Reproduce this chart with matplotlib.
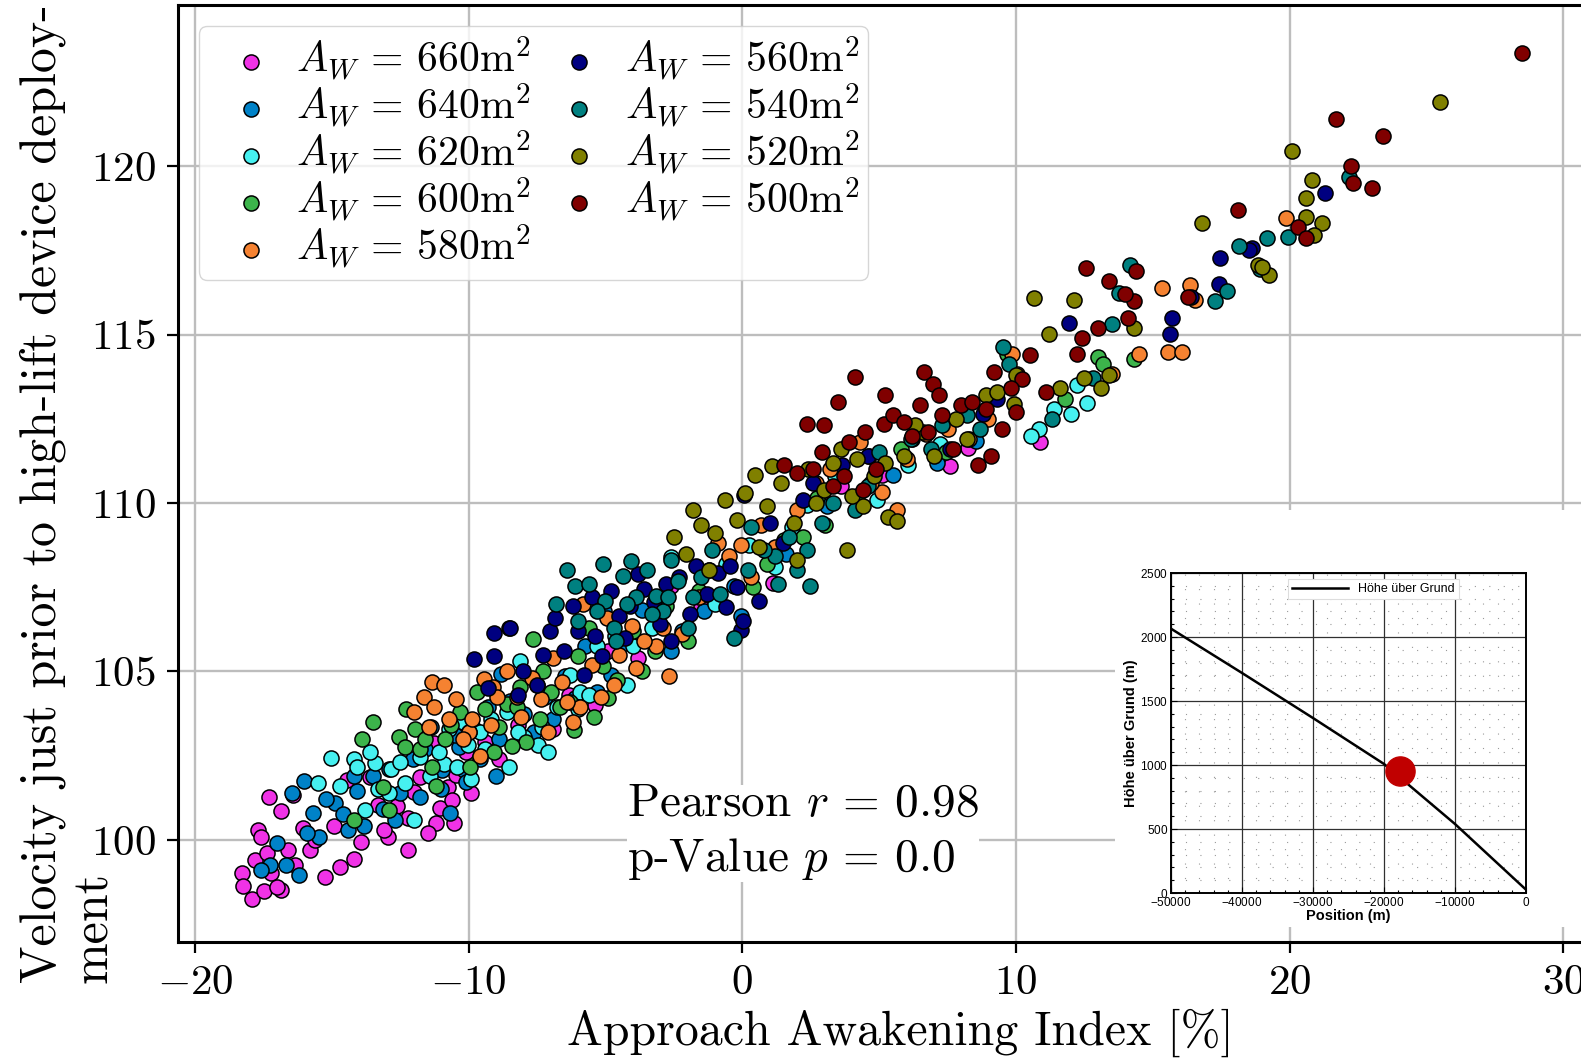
import numpy as np
import matplotlib
matplotlib.use("Agg")
import matplotlib.pyplot as plt
from matplotlib.patches import Rectangle

plt.rcParams["font.family"] = "cmr10"
plt.rcParams["mathtext.fontset"] = "cm"
plt.rcParams["axes.formatter.use_mathtext"] = True

# ---------------------------
# Data
# ---------------------------
areas = [660, 640, 620, 600, 580, 560, 540, 520, 500]
colors = ["#f032e6", "#0082c8", "#46f0f0", "#3cb44b", "#f58231",
          "#000080", "#008080", "#808000", "#800000"]

pts_660 = [(-18.28, 99.01), (-18.24, 98.62), (-17.91, 98.26), (-17.80, 99.40), (-17.69, 100.30),
           (-17.47, 98.47), (-17.35, 99.61), (-17.21, 99.01), (-16.84, 100.87), (-16.84, 98.50),
           (-16.43, 101.32), (-16.36, 99.25), (-15.25, 98.89), (-14.92, 100.42), (-14.19, 99.43),
           (-13.93, 99.94), (-12.93, 100.09), (-12.20, 99.70), (-12.23, 100.66), (-12.01, 101.41),
           (-11.79, 101.86), (-11.20, 100.51), (-11.05, 100.96), (-10.76, 101.56), (-10.54, 100.51),
           (-10.46, 101.92), (-10.10, 102.60), (-10.61, 101.17), (-13.60, 101.86), (-13.30, 101.05),
           (-14.44, 101.77), (-16.06, 100.36), (-17.28, 101.26), (-11.27, 102.87), (-17.60, 100.10),
           (-15.80, 99.70), (-13.10, 100.30), (-6.34, 104.31), (-4.90, 105.60), (-2.62, 107.54),
           (1.14, 107.63), (5.12, 110.84), (8.25, 111.62), (10.87, 111.80), (-9.40, 102.90),
           (-8.20, 103.40), (-7.50, 104.60), (-3.80, 105.40), (-1.50, 106.90), (3.60, 110.50),
           (7.60, 111.10), (-17.00, 98.60), (-16.60, 99.70), (-15.60, 100.00), (-14.70, 99.20),
           (-12.60, 101.00), (-11.50, 100.20), (-9.90, 101.40), (-8.90, 102.40), (-6.90, 103.30),
           (-5.40, 104.00)]

pts_640 = [(-16.47, 101.38), (-16.03, 101.74), (-17.24, 99.25), (-16.69, 99.25), (-16.21, 98.95),
           (-15.48, 100.09), (-14.89, 101.11), (-14.59, 100.78), (-14.08, 101.44), (-13.82, 100.42),
           (-13.12, 100.93), (-12.49, 101.38), (-12.05, 102.40), (-11.79, 101.26), (-11.39, 103.35),
           (-10.98, 102.07), (-10.69, 100.81), (-10.35, 102.75), (-10.17, 102.07), (-10.10, 101.71),
           (-9.80, 103.29), (-9.29, 103.95), (-8.81, 104.91), (-8.47, 104.13), (-7.96, 103.74),
           (-7.22, 104.25), (-6.48, 104.85), (-5.75, 105.75), (-5.05, 106.80), (-3.65, 106.83),
           (-3.17, 106.59), (-0.29, 107.54), (-0.04, 106.65), (4.64, 111.38), (5.49, 110.84),
           (8.55, 111.83), (-15.90, 100.20), (-14.40, 100.30), (-13.50, 101.90), (-12.70, 100.60),
           (-11.60, 102.70), (-9.60, 102.40), (-8.90, 103.00), (-6.90, 103.60), (-5.30, 104.40),
           (-4.40, 105.80), (-2.20, 106.20), (1.60, 108.50), (3.10, 109.90), (7.10, 111.20),
           (-17.00, 99.90), (-15.20, 101.20), (-17.60, 99.10), (-15.70, 100.80), (-14.20, 101.90),
           (-12.90, 102.10), (-11.00, 101.50), (-10.50, 103.10), (-9.00, 101.90), (-7.60, 103.20),
           (-6.10, 104.20), (-4.80, 104.90), (-2.60, 105.60), (-1.40, 106.80)]

pts_620 = [(-15.03, 102.43), (-14.19, 102.40), (-14.08, 102.16), (-13.41, 102.28), (-13.30, 101.50),
           (-12.82, 102.10), (-12.34, 101.68), (-11.79, 102.46), (-10.91, 102.25), (-10.43, 102.16),
           (-10.02, 102.81), (-9.58, 103.20), (-8.51, 102.16), (-8.14, 105.30), (-7.96, 103.05),
           (-7.48, 102.81), (-7.33, 103.35), (-6.78, 103.95), (-5.93, 104.40), (-5.31, 105.75),
           (-4.64, 106.05), (-3.98, 105.75), (-2.62, 108.41), (0.26, 108.74), (2.36, 109.94),
           (4.94, 110.09), (6.04, 111.14), (10.83, 112.19), (11.39, 112.78), (12.23, 113.50),
           (12.60, 112.96), (12.01, 112.63), (10.54, 111.98), (7.22, 111.74), (-14.70, 101.60),
           (-13.80, 100.90), (-12.90, 101.40), (-11.40, 101.90), (-10.70, 103.30), (-9.20, 103.60),
           (-8.60, 103.80), (-6.30, 104.90), (-4.20, 104.60), (-1.00, 107.00), (1.20, 108.10),
           (3.40, 110.80), (-12.00, 100.60), (-9.90, 101.80), (-15.50, 101.70), (-13.60, 102.60),
           (-12.50, 102.30), (-11.10, 102.60), (-10.20, 103.50), (-9.40, 102.70), (-8.20, 103.20),
           (-7.10, 102.60), (-6.00, 103.90), (-5.60, 104.30), (-3.30, 106.30), (-0.60, 108.20),
           (1.80, 109.30)]

pts_600 = [(-13.49, 103.50), (-12.56, 103.05), (-12.31, 102.75), (-13.12, 101.56), (-11.97, 103.29),
           (-11.79, 102.69), (-11.35, 102.16), (-10.87, 102.99), (-10.65, 103.41), (-9.95, 102.16),
           (-9.06, 102.60), (-8.88, 103.35), (-8.58, 104.04), (-8.22, 103.95), (-8.11, 104.55),
           (-7.63, 105.96), (-7.30, 105.00), (-6.67, 103.95), (-6.15, 103.26), (-6.01, 105.45),
           (-5.42, 103.65), (-5.08, 105.15), (-4.57, 104.76), (-3.68, 105.00), (-2.80, 106.95),
           (1.51, 108.89), (2.73, 110.15), (3.02, 109.34), (7.44, 111.50), (9.69, 114.43),
           (13.01, 114.34), (13.19, 114.13), (14.33, 114.28), (-12.90, 100.90), (-10.30, 103.80),
           (-9.40, 103.90), (-7.90, 102.90), (-7.00, 104.40), (-5.60, 106.30), (-4.00, 106.20),
           (-2.00, 105.90), (-1.20, 108.00), (0.40, 107.50), (4.20, 110.20), (5.80, 111.60),
           (11.80, 113.10), (-11.20, 101.60), (-14.20, 100.60), (-13.90, 103.00), (-12.30, 103.90),
           (-11.60, 103.00), (-10.00, 103.20), (-9.70, 104.40), (-8.40, 102.80), (-7.40, 103.60),
           (-6.30, 104.10), (-4.90, 104.20), (-3.20, 105.60), (-1.60, 107.40), (0.90, 108.20),
           (2.20, 109.00)]

pts_580 = [(-11.64, 104.25), (-11.35, 104.70), (-11.27, 103.95), (-11.46, 103.35), (-10.46, 104.19),
           (-9.99, 103.20), (-9.87, 103.59), (-9.43, 104.79), (-9.10, 104.55), (-8.95, 104.25),
           (-8.25, 104.25), (-8.07, 103.65), (-7.37, 104.19), (-6.60, 104.70), (-5.93, 103.95),
           (-5.82, 107.01), (-5.16, 104.25), (-4.94, 106.59), (-4.02, 106.35), (-3.17, 105.75),
           (-2.69, 104.85), (-0.48, 108.44), (-0.04, 108.74), (0.70, 109.34), (1.99, 109.79),
           (5.12, 110.33), (5.67, 109.79), (6.71, 112.04), (8.99, 112.49), (9.84, 114.43),
           (10.02, 113.83), (13.52, 113.83), (14.51, 114.43), (15.33, 116.38), (15.55, 114.49),
           (16.06, 114.49), (16.36, 116.47), (16.54, 116.02), (19.86, 118.47), (-10.90, 104.60),
           (-10.20, 103.00), (-7.70, 104.80), (-6.90, 105.40), (-5.50, 105.20), (-4.50, 105.50),
           (-3.60, 105.90), (-2.90, 106.30), (-2.20, 106.10), (0.30, 107.80), (3.20, 111.00),
           (4.30, 111.80), (7.50, 112.20), (-6.20, 103.50), (-9.60, 102.50), (-12.00, 103.80),
           (-10.70, 103.60), (-9.20, 103.40), (-8.60, 105.00), (-7.10, 103.20), (-6.40, 104.10),
           (-4.70, 104.60), (-3.90, 105.10), (-1.60, 107.20), (-0.90, 108.80), (1.20, 108.70),
           (2.70, 110.60), (4.70, 110.60), (6.00, 111.30), (8.30, 111.90)]

pts_560 = [(-9.80, 105.36), (-9.06, 105.45), (-8.51, 106.29), (-7.04, 106.20), (-6.85, 106.59),
           (-6.19, 106.95), (-5.38, 106.05), (-5.12, 105.45), (-4.50, 106.65), (-4.09, 106.95),
           (-3.61, 107.46), (-3.24, 107.07), (-1.69, 108.14), (-0.88, 107.93), (-0.44, 108.14),
           (-0.04, 106.23), (0.04, 106.50), (0.07, 110.24), (3.65, 111.14), (8.81, 112.63),
           (11.94, 115.33), (15.70, 115.48), (15.63, 115.03), (17.47, 117.28), (18.64, 117.57),
           (21.30, 119.20), (18.50, 117.50), (17.40, 116.50), (-8.00, 105.00), (-6.50, 105.60),
           (-5.80, 104.90), (-4.80, 107.40), (-3.00, 106.40), (-2.30, 107.80), (-1.30, 107.30),
           (0.60, 107.10), (1.00, 109.40), (2.60, 110.60), (6.20, 111.90), (9.30, 113.10),
           (16.40, 116.10), (-7.50, 104.60), (-2.60, 105.90), (-0.60, 106.90), (-9.06, 106.14),
           (-8.50, 106.30), (-9.30, 104.50), (-8.20, 104.30), (-7.30, 105.50), (-6.00, 106.20),
           (-5.50, 107.20), (-4.30, 106.00), (-3.80, 107.90), (-2.80, 107.60), (-1.90, 106.70),
           (-0.20, 107.50), (1.50, 108.80), (2.20, 110.10), (4.60, 111.40), (7.60, 111.60)]

pts_540 = [(-6.12, 107.54), (-5.01, 107.10), (-4.35, 107.84), (-4.05, 108.29), (-3.17, 107.25),
           (-2.36, 107.69), (1.18, 108.44), (2.36, 108.59), (2.47, 107.54), (6.15, 111.89),
           (9.51, 114.64), (9.73, 114.13), (13.78, 116.23), (14.15, 117.07), (17.28, 115.99),
           (18.16, 117.63), (19.18, 117.87), (18.93, 116.95), (17.72, 116.30), (19.95, 117.90),
           (22.18, 119.67), (-6.40, 108.00), (-5.60, 107.60), (-5.30, 106.80), (-4.70, 106.30),
           (-3.90, 107.20), (-3.50, 108.00), (-2.90, 106.80), (-2.00, 106.30), (-1.80, 107.20),
           (-1.10, 108.60), (-0.30, 106.00), (0.30, 109.30), (0.80, 108.60), (1.70, 109.00),
           (3.30, 110.00), (4.10, 109.80), (5.00, 111.50), (7.30, 112.30), (8.20, 112.60),
           (11.30, 112.50), (13.50, 115.30), (-4.60, 105.90), (-2.60, 108.30), (-6.80, 107.00),
           (-6.00, 106.50), (-5.10, 108.20), (-4.20, 107.00), (-3.30, 106.70), (-2.70, 107.20),
           (-1.50, 107.80), (-0.80, 107.30), (0.20, 108.00), (1.30, 107.60), (2.00, 108.00),
           (2.90, 109.40), (4.60, 110.50), (6.90, 111.60), (8.70, 112.20), (12.80, 113.70)]

pts_520 = [(-2.06, 108.50), (-1.51, 109.34), (-0.63, 110.09), (0.48, 110.84), (3.83, 108.59),
           (5.31, 109.58), (5.67, 109.46), (9.91, 112.93), (10.65, 116.08), (11.21, 115.03),
           (12.12, 116.02), (16.80, 118.30), (18.86, 117.07), (19.23, 116.77), (20.10, 120.45),
           (20.80, 119.60), (20.60, 119.05), (20.60, 118.50), (21.20, 118.30), (20.90, 117.95),
           (19.00, 117.00), (25.50, 121.90), (-2.50, 109.00), (-1.20, 108.00), (-0.20, 109.50),
           (0.90, 109.90), (1.40, 110.60), (1.90, 109.40), (2.40, 111.00), (3.00, 110.40),
           (3.60, 111.60), (4.20, 111.30), (4.80, 110.80), (5.90, 111.40), (6.60, 112.10),
           (7.80, 112.50), (8.90, 113.20), (11.60, 113.40), (12.50, 113.70), (13.40, 113.80),
           (14.30, 115.20), (-1.80, 109.80), (2.00, 108.30), (4.40, 109.90), (-1.00, 109.10),
           (0.10, 110.30), (0.60, 108.70), (1.10, 111.10), (2.70, 110.00), (3.30, 111.20),
           (4.00, 110.20), (5.20, 111.20), (6.30, 112.30), (7.00, 111.40), (8.20, 111.90),
           (9.30, 113.30), (10.00, 113.80), (13.10, 113.40)]

pts_500 = [(1.51, 111.14), (2.36, 112.34), (4.13, 113.74), (5.16, 112.34), (6.63, 113.89),
           (6.96, 113.53), (8.62, 111.14), (10.21, 113.68), (12.23, 114.43), (12.56, 116.98),
           (13.40, 116.60), (14.10, 115.50), (14.30, 116.00), (14.40, 116.90), (18.10, 118.70),
           (20.30, 118.20), (20.60, 117.85), (21.70, 121.40), (22.25, 120.00), (22.30, 119.50),
           (23.00, 119.35), (23.40, 120.90), (28.50, 123.35), (2.00, 110.90), (2.90, 111.50),
           (3.30, 110.50), (3.90, 111.80), (4.40, 110.40), (4.90, 111.00), (5.50, 112.60),
           (6.20, 112.00), (7.30, 112.60), (7.70, 111.60), (8.00, 112.90), (8.40, 113.00),
           (9.10, 111.40), (9.50, 112.20), (10.50, 114.40), (12.40, 114.90), (16.30, 116.10),
           (3.50, 113.00), (6.50, 112.90), (9.80, 113.40), (2.60, 111.00), (3.00, 112.30),
           (3.70, 110.80), (4.50, 112.10), (5.20, 113.20), (5.90, 112.40), (6.80, 112.10),
           (7.20, 113.20), (8.90, 112.80), (9.20, 113.90), (10.00, 112.70), (11.10, 113.30),
           (13.00, 115.20), (14.00, 116.20)]

groups = [pts_660, pts_640, pts_620, pts_600, pts_580, pts_560, pts_540, pts_520, pts_500]

pearson_r = 0.98
p_value = 0.0

# inset: glide path (Höhe über Grund over position)
inset_pos = [-50000, -40000, -30000, -20000, -10000, 0]
inset_height = [2065, 1719, 1367, 1008, 539, 26]
marker_pos = -17700
marker_height = 950

# ---------------------------
# Figure
# ---------------------------
W, H = 1581, 1061
fig = plt.figure(figsize=(W / 100, H / 100), dpi=100)

ax_l, ax_r, ax_t, ax_b = 177.7, 1586.6, 5.0, 942.0
ax = fig.add_axes([ax_l / W, 1 - ax_b / H, (ax_r - ax_l) / W, (ax_b - ax_t) / H])

for a, c, pts in zip(areas, colors, groups):
    xy = np.array(pts)
    ax.scatter(xy[:, 0], xy[:, 1], s=118, c=c, edgecolors="black", linewidths=1.1,
               label=rf"$A_W\,=\,{a}\mathrm{{m}}^2$", zorder=3)

ax.set_xlim(-20.63, 30.85)
ax.set_ylim(96.97, 124.78)
ax.set_xticks([-20, -10, 0, 10, 20, 30])
ax.set_yticks([100, 105, 110, 115, 120])
ax.set_axisbelow(True)
ax.grid(True, color="#bdbdbd", lw=1.7)
for sp in ax.spines.values():
    sp.set_linewidth(2.2)
ax.tick_params(labelsize=31, direction="out", length=8, width=1.6, pad=8)

ax.set_xlabel("Approach Awakening Index [%]", fontsize=34.5)
ax.xaxis.set_label_coords(0.5127, -0.071)
ax.set_ylabel("Velocity just prior to high-lift device deploy-\nment", fontsize=36,
              multialignment="left", linespacing=1.15)
ax.yaxis.set_label_coords(-0.043, 0.479)

ax.legend(loc="upper left", ncol=2, fontsize=30, handlelength=2.1, handletextpad=0.05,
          columnspacing=0.1, labelspacing=-0.03, borderpad=0.2, framealpha=0.8,
          borderaxespad=0.5)

ax.text(-4.21, 101.69, f"Pearson $r \\,=\\, {pearson_r}$\np-Value $p \\,=\\, {p_value}$",
        fontsize=34, ha="left", va="top", linespacing=1.33,
        bbox=dict(facecolor="white", edgecolor="none", pad=0), zorder=4)

# white patch under the inset picture
fig.patches.append(Rectangle((1115 / W, 1 - 927 / H), 1.0, (927 - 510) / H,
                             transform=fig.transFigure, facecolor="white",
                             edgecolor="none", zorder=1))

# ---------------------------
# Inset
# ---------------------------
il, ir, it, ib = 1171, 1526, 573, 893
axi = fig.add_axes([il / W, 1 - ib / H, (ir - il) / W, (ib - it) / H], zorder=2)
axi.plot(inset_pos, inset_height, color="black", lw=1.8, label="Höhe über Grund")
axi.plot([marker_pos], [marker_height], "o", color="#c00000", ms=21, zorder=5)
axi.set_xlim(-50000, 0)
axi.set_ylim(0, 2500)
axi.set_xticks([-50000, -40000, -30000, -20000, -10000, 0])
axi.set_yticks([0, 500, 1000, 1500, 2000, 2500])
axi.set_xticks(np.arange(-50000, 1, 2000), minor=True)
axi.set_yticks(np.arange(0, 2501, 100), minor=True)
axi.grid(True, which="major", color="#303030", lw=0.9)
axi.grid(True, which="minor", color="#9a9a9a", lw=0.8, ls=(0, (1, 12)))
axi.tick_params(which="both", direction="in", labelsize=8.5, pad=2, length=4, width=0.8)
axi.tick_params(which="minor", length=2)
for lab in axi.get_xticklabels() + axi.get_yticklabels():
    lab.set_family("Liberation Sans")
for sp in axi.spines.values():
    sp.set_linewidth(1.4)
axi.set_xlabel("Position (m)", fontsize=10.5, fontweight="bold", family="Liberation Sans",
               labelpad=0)
axi.set_ylabel("Höhe über Grund (m)", fontsize=10.5, fontweight="bold", family="Liberation Sans",
               labelpad=2)
leg = axi.legend(loc="upper center", bbox_to_anchor=(0.57, 1.0),
                 prop={"family": "Liberation Sans", "size": 9}, handlelength=4.5,
                 frameon=True, fancybox=False, edgecolor="#dddddd", framealpha=1,
                 borderpad=0.3)
leg.get_frame().set_linewidth(0.8)

fig.savefig("out.png", dpi=100)
